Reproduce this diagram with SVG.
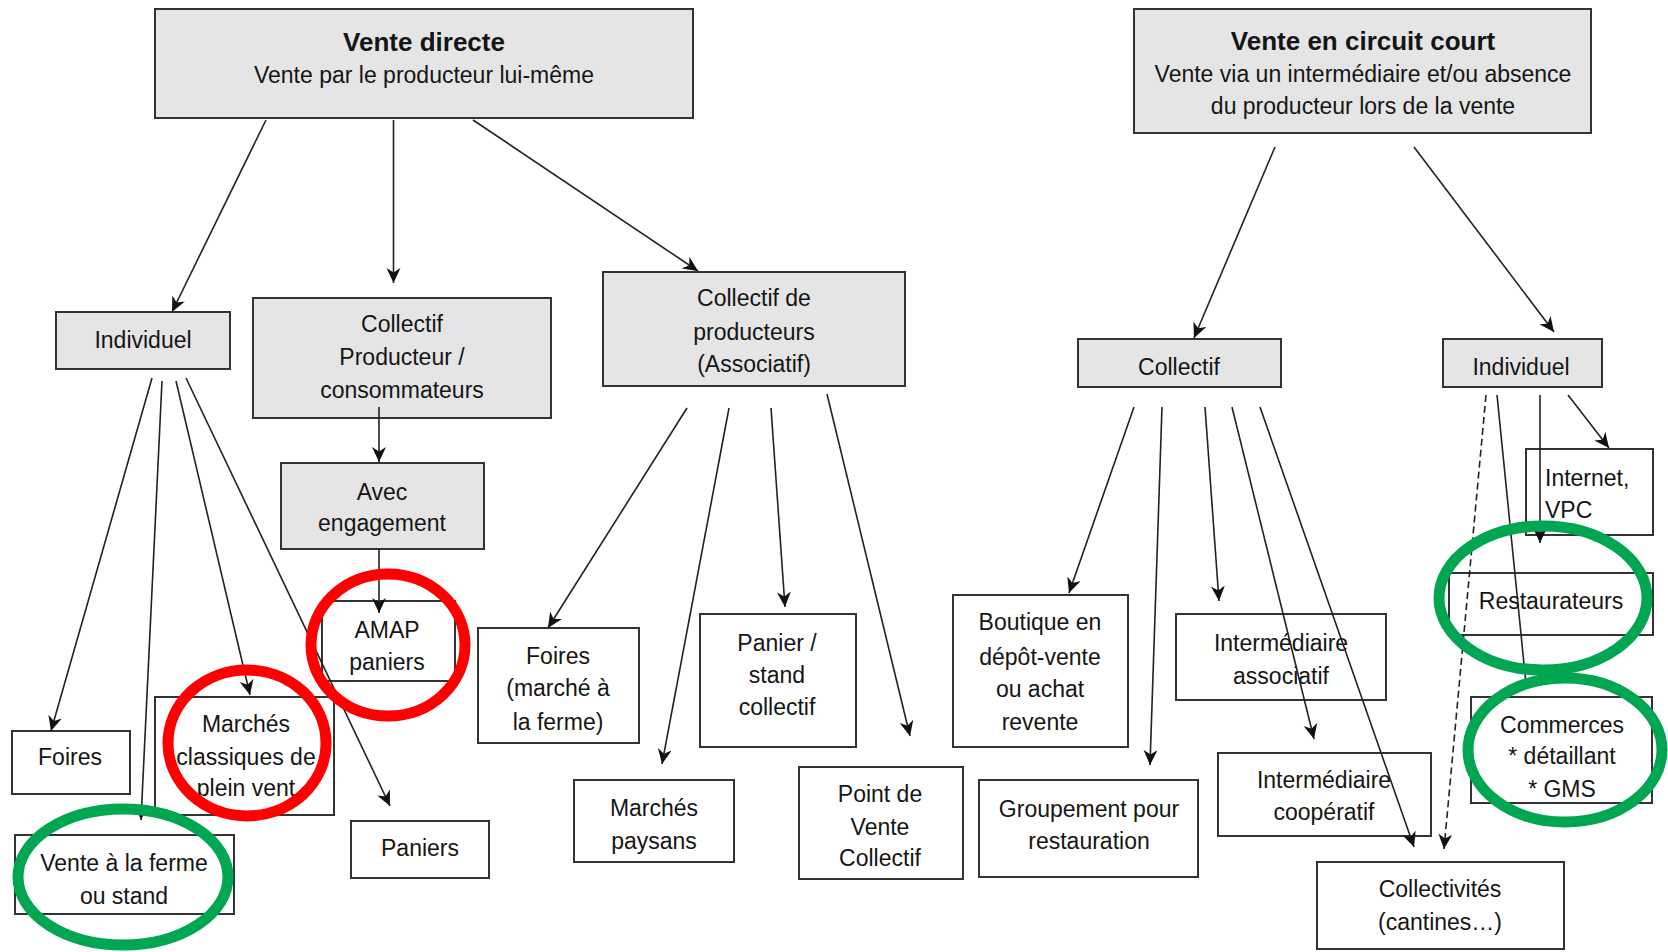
<svg xmlns="http://www.w3.org/2000/svg" width="1668" height="952" viewBox="0 0 1668 952">
<style>
  .g { fill: #e5e5e5; stroke: #333; stroke-width: 2; }
  .w { fill: #ffffff; stroke: #333; stroke-width: 2; }
  text { font-family: "Liberation Sans", Arial, sans-serif; font-size: 23px; fill: #151515; text-anchor: middle; }
  .b { font-weight: bold; font-size: 26px; }
  .l { text-anchor: start; }
  .c line { stroke: #222; stroke-width: 1.6; marker-end: url(#ah); }
  .c line.nm { marker-end: none; }
  .c line.d { stroke-dasharray: 7 4; }
  .red { fill: none; stroke: #ff0000; stroke-width: 11; }
  .grn { fill: none; stroke: #00a651; stroke-width: 11; }
</style>
<defs>
  <marker id="ah" markerUnits="userSpaceOnUse" markerWidth="18" markerHeight="16" refX="15" refY="7" orient="auto">
    <path d="M0,0 L15,7 L0,14 L4.5,7 z" fill="#111"/>
  </marker>
</defs>
<rect width="1668" height="952" fill="#ffffff"/>

<g id="vente-directe">
  <rect class="g" x="155" y="9" width="538" height="109"/>
  <text class="b" x="424" y="51">Vente directe</text>
  <text x="424" y="83">Vente par le producteur lui-même</text>
</g>
<g id="vente-circuit-court">
  <rect class="g" x="1134" y="9" width="457" height="124"/>
  <text class="b" x="1363" y="50">Vente en circuit court</text>
  <text x="1363" y="82">Vente via un intermédiaire et/ou absence</text>
  <text x="1363" y="114">du producteur lors de la vente</text>
</g>
<g id="individuel-gauche">
  <rect class="g" x="56" y="312" width="174" height="57"/>
  <text x="143" y="348">Individuel</text>
</g>
<g id="collectif-prod-conso">
  <rect class="g" x="253" y="298" width="298" height="120"/>
  <text x="402" y="332">Collectif</text>
  <text x="402" y="365">Producteur /</text>
  <text x="402" y="398">consommateurs</text>
</g>
<g id="collectif-producteurs">
  <rect class="g" x="603" y="272" width="302" height="114"/>
  <text x="754" y="306">Collectif de</text>
  <text x="754" y="340">producteurs</text>
  <text x="754" y="372">(Associatif)</text>
</g>
<g id="avec-engagement">
  <rect class="g" x="281" y="463" width="203" height="86"/>
  <text x="382" y="500">Avec</text>
  <text x="382" y="531">engagement</text>
</g>
<g id="amap">
  <rect class="w" x="322" y="601" width="133" height="80"/>
  <text x="387" y="638">AMAP</text>
  <text x="387" y="670">paniers</text>
</g>
<g id="foires">
  <rect class="w" x="12" y="731" width="118" height="63"/>
  <text x="70" y="765">Foires</text>
</g>
<g id="marches-classiques">
  <rect class="w" x="155" y="697" width="179" height="118"/>
  <text x="246" y="732">Marchés</text>
  <text x="246" y="765">classiques de</text>
  <text x="246" y="796">plein vent</text>
</g>
<g id="vente-ferme">
  <rect class="w" x="15" y="835" width="219" height="79"/>
  <text x="124" y="871">Vente à la ferme</text>
  <text x="124" y="904">ou stand</text>
</g>
<g id="paniers">
  <rect class="w" x="351" y="821" width="138" height="57"/>
  <text x="420" y="856">Paniers</text>
</g>
<g id="foires-marche-ferme">
  <rect class="w" x="478" y="628" width="161" height="115"/>
  <text x="558" y="664">Foires</text>
  <text x="558" y="696">(marché à</text>
  <text x="558" y="730">la ferme)</text>
</g>
<g id="marches-paysans">
  <rect class="w" x="574" y="780" width="160" height="82"/>
  <text x="654" y="816">Marchés</text>
  <text x="654" y="849">paysans</text>
</g>
<g id="panier-stand">
  <rect class="w" x="700" y="614" width="156" height="133"/>
  <text x="777" y="651">Panier /</text>
  <text x="777" y="683">stand</text>
  <text x="777" y="715">collectif</text>
</g>
<g id="point-vente">
  <rect class="w" x="799" y="767" width="164" height="112"/>
  <text x="880" y="802">Point de</text>
  <text x="880" y="835">Vente</text>
  <text x="880" y="866">Collectif</text>
</g>
<g id="collectif-droite">
  <rect class="g" x="1078" y="339" width="203" height="48"/>
  <text x="1179" y="375">Collectif</text>
</g>
<g id="individuel-droite">
  <rect class="g" x="1443" y="339" width="159" height="48"/>
  <text x="1521" y="375">Individuel</text>
</g>
<g id="boutique">
  <rect class="w" x="953" y="595" width="175" height="152"/>
  <text x="1040" y="630">Boutique en</text>
  <text x="1040" y="665">dépôt-vente</text>
  <text x="1040" y="697">ou achat</text>
  <text x="1040" y="730">revente</text>
</g>
<g id="groupement">
  <rect class="w" x="979" y="780" width="219" height="97"/>
  <text x="1089" y="817">Groupement pour</text>
  <text x="1089" y="849">restauration</text>
</g>
<g id="intermediaire-associatif">
  <rect class="w" x="1176" y="614" width="210" height="86"/>
  <text x="1281" y="651">Intermédiaire</text>
  <text x="1281" y="684">associatif</text>
</g>
<g id="intermediaire-cooperatif">
  <rect class="w" x="1218" y="753" width="213" height="83"/>
  <text x="1324" y="788">Intermédiaire</text>
  <text x="1324" y="820">coopératif</text>
</g>
<g id="collectivites">
  <rect class="w" x="1317" y="862" width="247" height="87"/>
  <text x="1440" y="897">Collectivités</text>
  <text x="1440" y="930">(cantines…)</text>
</g>
<g id="internet">
  <rect class="w" x="1526" y="449" width="127" height="86"/>
  <text class="l" x="1545" y="486">Internet,</text>
  <text class="l" x="1545" y="518">VPC</text>
</g>
<g id="restaurateurs">
  <rect class="w" x="1449" y="573" width="204" height="62"/>
  <text x="1551" y="609">Restaurateurs</text>
</g>
<g id="commerces">
  <rect class="w" x="1471" y="697" width="181" height="106"/>
  <text x="1562" y="733">Commerces</text>
  <text x="1562" y="764">* détaillant</text>
  <text x="1562" y="797">* GMS</text>
</g>

<g class="c" id="connectors">
  <line x1="266" y1="120" x2="172" y2="312"/>
  <line x1="393.5" y1="120" x2="393.5" y2="283"/>
  <line x1="473" y1="120" x2="698" y2="271"/>
  <line x1="152" y1="378" x2="51" y2="731"/>
  <line x1="162" y1="381" x2="141" y2="820"/>
  <line x1="176" y1="381" x2="250" y2="695"/>
  <line x1="186" y1="378" x2="390" y2="806"/>
  <line x1="379" y1="407" x2="379" y2="462"/>
  <line x1="379" y1="549" x2="379" y2="613"/>
  <line x1="687" y1="408" x2="548" y2="628"/>
  <line x1="729" y1="408" x2="662" y2="764"/>
  <line x1="771" y1="408" x2="785" y2="607"/>
  <line x1="827" y1="394" x2="910" y2="736"/>
  <line x1="1275" y1="147" x2="1194" y2="338"/>
  <line x1="1414" y1="147" x2="1554" y2="332"/>
  <line x1="1134" y1="407" x2="1069" y2="593"/>
  <line x1="1162" y1="407" x2="1150" y2="765"/>
  <line x1="1205" y1="407" x2="1219" y2="601"/>
  <line x1="1232" y1="407" x2="1314" y2="739"/>
  <line x1="1260" y1="407" x2="1414" y2="847"/>
  <line class="d" x1="1486" y1="395" x2="1444" y2="849"/>
  <line class="nm" x1="1497" y1="395" x2="1526" y2="684"/>
  <line x1="1540" y1="395" x2="1540" y2="543"/>
  <line x1="1568" y1="395" x2="1609" y2="448"/>
</g>

<g id="highlights">
  <ellipse class="red" cx="388" cy="645" rx="77" ry="71"/>
  <ellipse class="red" cx="247" cy="743" rx="79" ry="73"/>
  <ellipse class="grn" cx="123" cy="877" rx="105" ry="68"/>
  <ellipse class="grn" cx="1543" cy="598" rx="104" ry="72"/>
  <ellipse class="grn" cx="1565" cy="750" rx="97" ry="72"/>
</g>
</svg>
